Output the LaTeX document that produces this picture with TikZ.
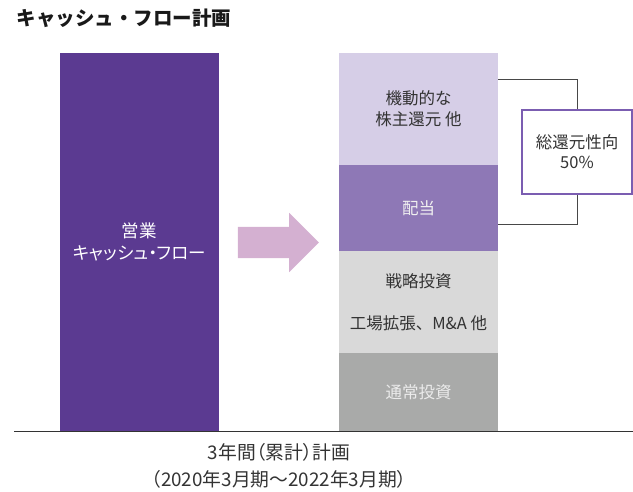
\documentclass[tikz,border=0pt]{standalone}
\usepackage{fontspec}
\setmainfont{Noto Sans CJK JP}[RawFeature=+palt]
\newfontfamily\fullwidthfont{Noto Sans CJK JP}
\usetikzlibrary{positioning, shapes.arrows}

\definecolor{cfPurple}{HTML}{5B3A91}
\definecolor{arrowPink}{HTML}{D4B0D1}
\definecolor{returnLight}{HTML}{D6CEE7}
\definecolor{dividendPurple}{HTML}{8E78B6}
\definecolor{strategyGray}{HTML}{D9D9D9}
\definecolor{regularGray}{HTML}{A9AAA9}
\definecolor{ratioLine}{HTML}{7B5DB1}
\definecolor{textDark}{HTML}{333333}

\begin{document}
\begin{tikzpicture}[x=1pt, y=-1pt,
          block/.style={rectangle, draw=none, minimum width=159pt,
                        inner sep=0pt, outer sep=0pt, align=center,
                        font=\fontsize{16.5}{21}\selectfont, text=textDark},
          ratiobox/.style={rectangle, draw=ratioLine, line width=1.3pt,
                           fill=white, minimum width=110pt, minimum height=84pt,
                           align=center, font=\fontsize{16.5}{20}\selectfont,
                           text=textDark},
          bracket/.style={draw=textDark!90, line width=0.9pt},
          axis/.style={draw=textDark, line width=1.3pt},
          node distance=0pt,
        ]
          \useasboundingbox (0,0) rectangle (633,491);

          \node[anchor=west, font=\fullwidthfont\fontsize{19.5}{22}\selectfont\bfseries,
                text=black!90] (title) at (13,18) {キャッシュ・フロー計画};

          \node[block, fill=cfPurple, text=white, minimum height=378pt,
                font=\fontsize{17.5}{22}\selectfont,
                anchor=north west] (cf) at (60,53) {営業\\キャッシュ・フロー};

          \node[block, fill=returnLight, minimum height=112pt,
                anchor=north west] (kido) at (339,53) {機動的な\\株主還元 他};
          \node[block, fill=dividendPurple, text=white!94!black,
                minimum height=86pt, below=of kido] (haito) {配当};
          \node[block, fill=strategyGray, minimum height=102pt,
                below=of haito] (senryaku)
                {戦略投資\\[21pt]工場拡張{\fullwidthfont 、}M\&A 他};
          \node[block, fill=regularGray, text=white!92!black,
                minimum height=78pt, below=of senryaku] (tsujo) {通常投資};

          \node[single arrow, fill=arrowPink, draw=none, inner xsep=0pt,
                inner ysep=15.5pt, minimum height=81pt,
                single arrow head extend=14pt] (flow) at (270.5,242.5) {};

          \node[ratiobox] (ratio) at (577,152) {総還元性向\\50\%};

          \coordinate (brtop) at (577,79);
          \coordinate (brbot) at (577,224);
          \draw[bracket] (brtop -| kido.east) -- (brtop) -- (ratio.north);
          \draw[bracket] (brbot -| haito.east) -- (brbot) -- (ratio.south);

          \coordinate (axisL) at (14,431.5);
          \coordinate (axisR) at (633,431.5);
          \draw[axis] (axisL) -- (axisR);

          \node[align=center, font=\fontsize{18.8}{27}\selectfont,
                text=textDark] (period) at (279,466)
                {3年間（累計）計画\\（2020年3月期～2022年3月期）};
        \end{tikzpicture}
\end{document}
